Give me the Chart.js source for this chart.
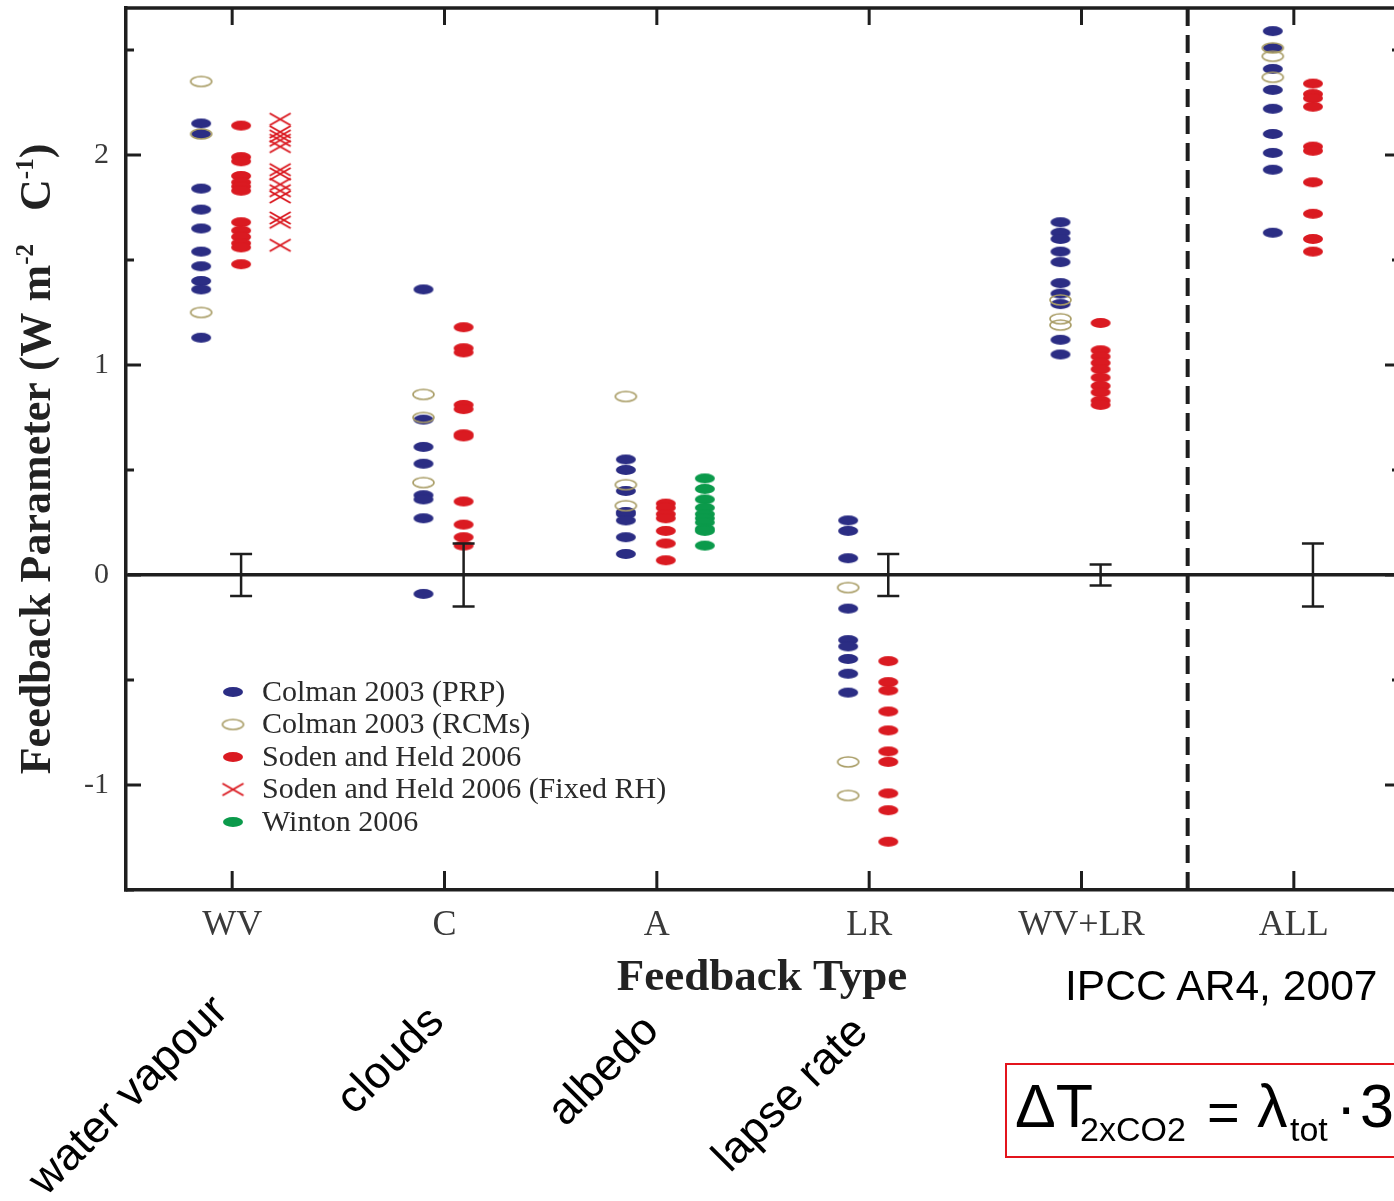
<!DOCTYPE html>
<html>
<head>
<meta charset="utf-8">
<title>Feedback Parameter by Feedback Type</title>
<script src="https://cdn.jsdelivr.net/npm/chart.js@4.4.1/dist/chart.umd.min.js"></script>
<style>
  html, body { margin: 0; padding: 0; background: #fff; overflow: hidden; width: 1394px; height: 1201px; }
  #wrap { position: relative; width: 1394px; height: 1201px; overflow: hidden; }
  #c { position: absolute; left: 0; top: 0; }
  #notes { position: absolute; left: 0; top: 0; pointer-events: none; }
  #notes text { font-family: "Liberation Sans", Arial, sans-serif; fill: #000; }
</style>
</head>
<body>
<div id="wrap">
  <canvas id="c" width="1406" height="1201" style="width:1406px;height:1201px"></canvas>
  <svg id="notes" width="1394" height="1201" viewBox="0 0 1394 1201">
    <text font-size="45" text-anchor="middle" dominant-baseline="central" transform="translate(127 1094) rotate(-45)">water vapour</text>
    <text font-size="45" text-anchor="middle" dominant-baseline="central" transform="translate(389 1059) rotate(-45)">clouds</text>
    <text font-size="45" text-anchor="middle" dominant-baseline="central" transform="translate(602 1069) rotate(-45)">albedo</text>
    <text font-size="45" text-anchor="middle" dominant-baseline="central" transform="translate(789 1093) rotate(-45)">lapse rate</text>
    <text x="1065" y="1000" font-size="42.6">IPCC AR4, 2007</text>
    <rect x="1006" y="1064" width="420" height="93" fill="none" stroke="#e3141c" stroke-width="2"/>
    <text x="1015" y="1127" font-size="61">ΔT</text>
    <text x="1080" y="1141" font-size="34">2xCO2</text>
    <text x="1207" y="1131" font-size="56">=</text>
    <text x="1257" y="1127" font-size="61">λ</text>
    <text x="1290" y="1141" font-size="34">tot</text>
    <text x="1336" y="1127" font-size="61">·</text>
    <text x="1360" y="1127" font-size="61">3.7</text>
  </svg>
</div>
<script>
// ---- data -------------------------------------------------------------
const categories = ['WV', 'C', 'A', 'LR', 'WV+LR', 'ALL'];

// Colman 2003, partial radiative perturbation (per category)
const colmanPRP = [
  [2.15, 2.10, 1.84, 1.74, 1.65, 1.54, 1.47, 1.40, 1.36, 1.13],
  [1.36, 0.74, 0.61, 0.53, 0.38, 0.36, 0.27, -0.09],
  [0.55, 0.50, 0.40, 0.30, 0.29, 0.26, 0.18, 0.10],
  [0.26, 0.21, 0.08, -0.16, -0.31, -0.34, -0.40, -0.47, -0.56],
  [1.68, 1.63, 1.60, 1.54, 1.49, 1.39, 1.34, 1.29, 1.12, 1.05],
  [2.59, 2.51, 2.41, 2.31, 2.22, 2.10, 2.01, 1.93, 1.63]
];

// Colman 2003, radiative-convective models
const colmanRCM = [
  [2.35, 2.10, 1.25],
  [0.86, 0.75, 0.44],
  [0.85, 0.43, 0.33],
  [-0.06, -0.89, -1.05],
  [1.31, 1.22, 1.19],
  [2.51, 2.47, 2.37]
];

// Soden and Held 2006
const sodenHeld = [
  [2.14, 1.99, 1.97, 1.90, 1.87, 1.85, 1.83, 1.68, 1.64, 1.61, 1.58, 1.56, 1.48],
  [1.18, 1.08, 1.06, 0.81, 0.79, 0.67, 0.66, 0.35, 0.24, 0.18, 0.14],
  [0.34, 0.32, 0.29, 0.27, 0.21, 0.15, 0.07],
  [-0.41, -0.51, -0.55, -0.65, -0.74, -0.84, -0.89, -1.04, -1.12, -1.27],
  [1.20, 1.07, 1.04, 1.01, 0.98, 0.94, 0.90, 0.87, 0.83, 0.81],
  [2.34, 2.29, 2.27, 2.23, 2.04, 2.02, 1.87, 1.72, 1.60, 1.54]
];

// Soden and Held 2006 with fixed relative humidity (water vapour only)
const sodenHeldFixedRH = [2.17, 2.11, 2.09, 2.07, 2.04, 1.93, 1.91, 1.86, 1.83, 1.80, 1.70, 1.68, 1.57];

// Winton 2006 (albedo only)
const winton = [0.46, 0.41, 0.36, 0.32, 0.29, 0.27, 0.25, 0.22, 0.21, 0.14];

// half-width of the uncertainty bar around zero for each category (none for A)
const errorHalfWidth = [0.10, 0.15, null, 0.10, 0.05, 0.15];

const yTickValues = [-1.5, -1, -0.5, 0, 0.5, 1, 1.5, 2, 2.5];
const dividerAt = 4.5;   // dashed separator before ALL

// ---- styling ----------------------------------------------------------
const SERIF = '"Liberation Serif", "DejaVu Serif", serif';
const INK = '#1e1e1e';
const BLUE = '#2b2d84', RED = '#da1a21', GREEN = '#0b9a4b', OLIVE = '#a99d66';

// horizontal placement of each series within a category group
const OFF3 = [-0.146, 0.042, 0.226];
const OFF2 = [-0.099, 0.090];
function offsetsFor(i) { return (i === 0 || i === 2) ? OFF3 : OFF2; }

function ellipseMarker(w, h, fill, stroke, lw) {
  const c = document.createElement('canvas');
  c.width = w + 4; c.height = h + 4;
  const g = c.getContext('2d');
  g.beginPath();
  g.ellipse(c.width / 2, c.height / 2, w / 2, h / 2, 0, 0, Math.PI * 2);
  if (fill) { g.fillStyle = fill; g.fill(); }
  if (stroke) { g.strokeStyle = stroke; g.lineWidth = lw; g.stroke(); }
  return c;
}
function crossMarker(w, h, color, lw) {
  const c = document.createElement('canvas');
  c.width = w + 4; c.height = h + 4;
  const g = c.getContext('2d');
  g.strokeStyle = color; g.lineWidth = lw;
  g.beginPath();
  g.moveTo(2, 2); g.lineTo(w + 2, h + 2);
  g.moveTo(w + 2, 2); g.lineTo(2, h + 2);
  g.stroke();
  return c;
}

const mk = {
  prp: ellipseMarker(20, 10, BLUE),
  rcm: ellipseMarker(21, 10, null, OLIVE, 1.6),
  sh: ellipseMarker(20, 10, RED),
  rh: crossMarker(21, 12, RED, 2),
  win: ellipseMarker(20, 10, GREEN)
};

function groupPoints(series, slot) {
  const pts = [];
  series.forEach((vals, i) => {
    const x = i + offsetsFor(i)[slot];
    vals.forEach(v => pts.push({ x, y: v }));
  });
  return pts;
}
function singlePoints(vals, cat, slot) {
  return vals.map(v => ({ x: cat + offsetsFor(cat)[slot], y: v }));
}

const datasets = [
  { label: 'Colman 2003 (RCMs)', data: groupPoints(colmanRCM, 0), pointStyle: mk.rcm },
  { label: 'Colman 2003 (PRP)', data: groupPoints(colmanPRP, 0), pointStyle: mk.prp },
  { label: 'Soden and Held 2006', data: groupPoints(sodenHeld, 1), pointStyle: mk.sh },
  { label: 'Soden and Held 2006 (Fixed RH)', data: singlePoints(sodenHeldFixedRH, 0, 2), pointStyle: mk.rh },
  { label: 'Winton 2006', data: singlePoints(winton, 2, 2), pointStyle: mk.win }
].map(d => Object.assign(d, { pointRadius: 5, showLine: false }));

const legendOrder = [1, 0, 2, 3, 4];

// ---- plugins ----------------------------------------------------------
function seg(ctx, x1, y1, x2, y2) { ctx.beginPath(); ctx.moveTo(x1, y1); ctx.lineTo(x2, y2); ctx.stroke(); }

const framePlugin = {
  id: 'frame',
  beforeDatasetsDraw(chart) {
    const { ctx, chartArea: a, scales: { x: xs, y: ys } } = chart;
    ctx.save();
    ctx.strokeStyle = INK;
    ctx.lineWidth = 3.5;
    seg(ctx, a.left - 1.5, a.top, a.right, a.top);
    seg(ctx, a.right, a.top, a.right, a.bottom);
    ctx.lineWidth = 3;
    ys.ticks.forEach(t => {
      const py = ys.getPixelForValue(t.value);
      const len = Number.isInteger(t.value) ? 15 : 8;
      seg(ctx, a.left, py, a.left + len, py);
      seg(ctx, a.right, py, a.right - len, py);
    });
    xs.ticks.forEach(t => {
      const px = xs.getPixelForValue(t.value);
      seg(ctx, px, a.bottom, px, a.bottom - 19);
      seg(ctx, px, a.top, px, a.top + 17);
    });
    const dx = xs.getPixelForValue(dividerAt);
    ctx.lineWidth = 4;
    ctx.setLineDash([18, 9]);
    seg(ctx, dx, a.top, dx, a.bottom);
    ctx.restore();
  },
  afterDatasetsDraw(chart) {
    const { ctx, scales: { x: xs, y: ys } } = chart;
    ctx.save();
    ctx.strokeStyle = INK;
    ctx.lineWidth = 2.5;
    errorHalfWidth.forEach((e, i) => {
      if (e == null) return;
      const px = xs.getPixelForValue(i + offsetsFor(i)[1]);
      const top = ys.getPixelForValue(e), bot = ys.getPixelForValue(-e);
      seg(ctx, px, top, px, bot);
      seg(ctx, px - 11, top, px + 11, top);
      seg(ctx, px - 11, bot, px + 11, bot);
    });
    ctx.restore();
  },
  afterDraw(chart) {
    const { ctx, chartArea: a } = chart;
    ctx.save();
    // legend
    const lx = a.left + 107, ly = a.top + 684, dy = 32.5;
    ctx.font = '30px ' + SERIF;
    ctx.fillStyle = '#2a2a2a';
    ctx.textBaseline = 'middle';
    ctx.textAlign = 'left';
    legendOrder.forEach((di, r) => {
      const ds = chart.data.datasets[di];
      const img = ds.pointStyle, y = ly + r * dy;
      ctx.drawImage(img, lx - img.width / 2, y - img.height / 2);
      ctx.fillText(ds.label, lx + 29, y + 1);
    });

    // x-axis title
    ctx.font = 'bold 45px ' + SERIF;
    ctx.fillStyle = '#222';
    ctx.textBaseline = 'alphabetic';
    ctx.textAlign = 'center';
    ctx.fillText('Feedback Type', 762, 990);

    // y-axis title with superscripts
    const parts = [
      ['Feedback Parameter (W m', 44, 0],
      ['-2', 25, -17],
      ['   C', 44, 0],
      ['-1', 25, -17],
      [')', 44, 0]
    ];
    ctx.translate(50, 459);
    ctx.rotate(-Math.PI / 2);
    ctx.textAlign = 'left';
    let total = 0;
    parts.forEach(p => { ctx.font = 'bold ' + p[1] + 'px ' + SERIF; p.w = ctx.measureText(p[0]).width; total += p.w; });
    let cx = -total / 2;
    parts.forEach(p => {
      ctx.font = 'bold ' + p[1] + 'px ' + SERIF;
      ctx.fillText(p[0], cx, p[2]);
      cx += p.w;
    });
    ctx.restore();
  }
};

// ---- chart ------------------------------------------------------------
new Chart(document.getElementById('c'), {
  type: 'scatter',
  data: { datasets },
  plugins: [framePlugin],
  options: {
    responsive: false,
    animation: false,
    events: [],
    layout: { padding: { left: 0, top: 8, right: 1, bottom: 0 } },
    plugins: { legend: { display: false }, tooltip: { enabled: false } },
    scales: {
      x: {
        type: 'linear',
        min: -0.5, max: 5.5,
        afterBuildTicks: s => { s.ticks = categories.map((_, i) => ({ value: i })); },
        afterFit: s => { s.height = 311; s.paddingLeft = 0; s.paddingRight = 0; },
        grid: { display: false },
        border: { display: true, color: INK, width: 3.5 },
        ticks: {
          autoSkip: false, maxRotation: 0, padding: 6,
          color: '#3a3a3a',
          font: { family: SERIF, size: 36 },
          callback: v => categories[v] ?? ''
        }
      },
      y: {
        type: 'linear',
        min: -1.5, max: 2.7,
        afterBuildTicks: s => { s.ticks = yTickValues.map(v => ({ value: v })); },
        afterFit: s => { s.width = 126; s.paddingTop = 0; s.paddingBottom = 0; },
        grid: {
          drawTicks: false,
          color: c => (c.tick && c.tick.value === 0) ? INK : 'rgba(0,0,0,0)',
          lineWidth: 3.5
        },
        border: { display: true, color: INK, width: 3.5 },
        ticks: {
          padding: 17,
          color: '#3a3a3a',
          font: { family: SERIF, size: 30 },
          callback: v => Number.isInteger(v) ? String(v) : ''
        }
      }
    }
  }
});
</script>
</body>
</html>
